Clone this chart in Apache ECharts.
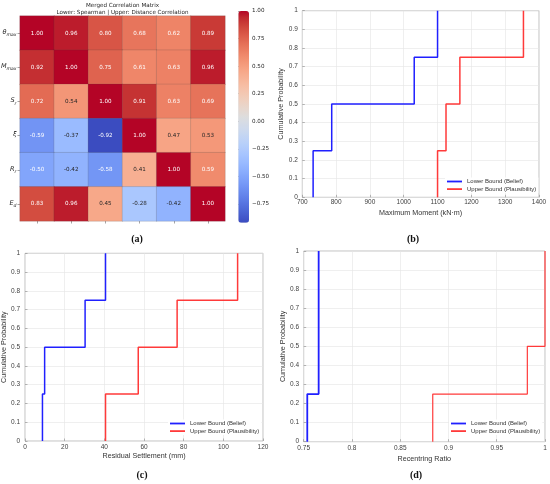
<!DOCTYPE html>
<html><head><meta charset="utf-8">
<script src="https://cdn.jsdelivr.net/npm/echarts@6/dist/echarts.min.js"></script>
<style>html,body{margin:0;padding:0;background:#fff}#c{width:550px;height:484px}</style>
</head><body><div id="c"></div>
<script>
// ---------- data ----------
const varNames = ['θ','M','S','ξ','R','E'];
const varSubs  = ['max','max','r','','r','d'];
const corrMatrix = [
  [ 1.00, 0.96, 0.80, 0.68, 0.62, 0.89],
  [ 0.92, 1.00, 0.75, 0.61, 0.63, 0.96],
  [ 0.72, 0.54, 1.00, 0.91, 0.63, 0.69],
  [-0.59,-0.37,-0.92, 1.00, 0.47, 0.53],
  [-0.50,-0.42,-0.58, 0.41, 1.00, 0.59],
  [ 0.83, 0.96, 0.45,-0.28,-0.42, 1.00]
];
const colorMin = -0.92, colorMax = 1.0;
const colorbarTicks = [-0.75,-0.5,-0.25,0,0.25,0.5,0.75,1];
const cumProb = [0.25,0.5,0.75,1];
const momentLower = [732,787,1031,1100];
const momentUpper = [1100,1125,1166,1354];
const settleLower = [8.8,9.9,30.3,40.6];
const settleUpper = [40.6,57.1,76.7,107.2];
const recenterLower = [0.7537,0.7655,0.7655,0.7655];
const recenterUpper = [0.8837,0.9817,1.0,1.0];
const nameLower = 'Lower Bound (Belief)';
const nameUpper = 'Upper Bound (Plausibility)';

// ---------- colormap (coolwarm) ----------
const coolwarm = [
 [59,76,192],[68,90,204],[77,104,215],[87,117,225],[98,130,234],[108,142,241],[119,154,247],[130,165,251],
 [141,176,254],[152,185,255],[163,194,255],[174,201,253],[184,208,249],[194,213,244],[204,217,238],[213,219,230],
 [221,221,221],[229,216,209],[236,211,197],[241,204,184],[245,196,173],[247,187,160],[247,177,148],[247,166,135],
 [244,154,123],[241,141,111],[236,127,99],[229,112,88],[222,96,77],[213,80,66],[203,62,56],[192,40,47],[180,4,38]
];
const hex = c => '#' + c.map(v => Math.round(v).toString(16).padStart(2,'0')).join('');
function cmap(v){
  let t = (v - colorMin)/(colorMax - colorMin); t = Math.max(0, Math.min(1, t));
  const f = t*(coolwarm.length-1), i = Math.min(Math.floor(f), coolwarm.length-2), r = f - i;
  return coolwarm[i].map((a,k)=> a + (coolwarm[i+1][k]-a)*r);
}
function textColor(v){
  const lin = cmap(v).map(c => { c/=255; return c<=0.03928 ? c/12.92 : Math.pow((c+0.055)/1.055,2.4); });
  const lum = 0.2126*lin[0]+0.7152*lin[1]+0.0722*lin[2];
  return lum > 0.408 ? '#262626' : '#ffffff';
}

const heatData = [];
corrMatrix.forEach((row,r)=>row.forEach((v,c)=>heatData.push({value:[c,r,v], label:{color:textColor(v)}})));

function stairs(xs){
  const pts = [[xs[0],0]];
  xs.forEach((x,i)=>{ pts.push([x,cumProb[i]]); if(i<xs.length-1) pts.push([xs[i+1],cumProb[i]]); });
  return pts;
}

const SANS = 'Liberation Sans, Arial, sans-serif';
const DJ = 'DejaVu Sans, sans-serif';
const fmtNum = v => String(+(+v).toFixed(4));

// ---------- grids ----------
const grids = [
  {left:20, top:16, width:205, height:205},                 // heatmap
  {left:238.3, top:11, width:10.7, height:211.7},           // colorbar axis
  {left:302.3, top:10.7, width:236.7, height:186.6, show:true, borderColor:'#a8a8a8', borderWidth:0.7}, // b
  {left:25, top:253.3, width:238, height:187.7, show:true, borderColor:'#a8a8a8', borderWidth:0.7},     // c
  {left:303.7, top:251, width:241.3, height:190.7, show:true, borderColor:'#a8a8a8', borderWidth:0.7}   // d
].map(g=>Object.assign({outerBoundsMode:'none', containLabel:false}, g));

function cdfX(gi, min, max, interval, name, margin, gap){
  return {type:'value', gridIndex:gi, min, max, interval, name, nameLocation:'middle', nameGap:gap,
    nameTextStyle:{fontSize:7.2, color:'#333', fontFamily:SANS},
    axisLine:{show:false}, axisTick:{show:true, inside:true, length:2.5, lineStyle:{color:'#888', width:0.6}},
    axisLabel:{fontSize:6.5, color:'#404040', fontFamily:SANS, margin, formatter:fmtNum},
    splitLine:{show:true, lineStyle:{color:'#e4e4e4', width:0.6}}};
}
function cdfY(gi, margin, gap){
  return {type:'value', gridIndex:gi, min:0, max:1, interval:0.1, name:'Cumulative Probability',
    nameLocation:'middle', nameGap:gap, nameTextStyle:{fontSize:7.2, color:'#333', fontFamily:SANS},
    axisLine:{show:false}, axisTick:{show:true, inside:true, length:2.5, lineStyle:{color:'#888', width:0.6}},
    axisLabel:{fontSize:6.5, color:'#404040', fontFamily:SANS, margin, formatter:fmtNum},
    splitLine:{show:true, lineStyle:{color:'#e4e4e4', width:0.6}}};
}

const xAxes = [
  {type:'category', gridIndex:0, data:varNames.map((n,i)=>i), axisLine:{show:false},
   axisTick:{show:true, alignWithLabel:true, length:2.5, lineStyle:{color:'#666', width:0.6}},
   axisLabel:{show:false}, splitLine:{show:false}},
  {type:'value', gridIndex:1, min:0, max:1, show:false},
  cdfX(2, 700, 1400, 100, 'Maximum Moment (kN·m)', 1.5, 12),
  cdfX(3, 0, 120, 20, 'Residual Settlement (mm)', 2.5, 12),
  cdfX(4, 0.75, 1, 0.05, 'Recentring Ratio', 3.5, 13.5)
];
const yAxes = [
  {type:'category', gridIndex:0, inverse:true, data:varNames.map((n,i)=>i), axisLine:{show:false},
   axisTick:{show:true, alignWithLabel:true, length:2.5, lineStyle:{color:'#666', width:0.6}},
   axisLabel:{margin:3.5, formatter:(v,i)=>'{m|'+varNames[i]+'}'+(varSubs[i]?'{s|'+varSubs[i]+'}':''),
     rich:{m:{fontSize:6.5, fontStyle:'italic', fontFamily:DJ, color:'#262626', padding:[0,0,1.8,0], verticalAlign:'bottom'},
           s:{fontSize:4.6, fontStyle:'italic', fontFamily:DJ, color:'#262626', verticalAlign:'bottom'}}},
   splitLine:{show:false}},
  {type:'value', gridIndex:1, position:'right', min:colorMin, max:colorMax,
   axisLine:{show:false}, splitLine:{show:false},
   axisTick:{show:true, length:2, customValues:colorbarTicks, lineStyle:{color:'#444', width:0.6}},
   axisLabel:{fontSize:5.6, color:'#262626', fontFamily:DJ, margin:3, customValues:colorbarTicks,
     formatter:v=>(v<0?'\u2212':'')+Math.abs(v).toFixed(2)}},
  cdfY(2, 4.5, 15),
  cdfY(3, 5, 15),
  cdfY(4, 4.7, 15)
];

function lineSeries(name, gi, xs, color, w){
  return {type:'line', name, xAxisIndex:gi, yAxisIndex:gi, data:stairs(xs), showSymbol:false, symbol:'none',
    clip:false, lineStyle:{color, width:w}, itemStyle:{color}, emphasis:{disabled:true}, silent:true, z:3};
}
const BLUE = '#2020ff', RED = '#ff3a3a';

const series = [
  {type:'heatmap', xAxisIndex:0, yAxisIndex:0, data:heatData,
   itemStyle:{borderColor:'rgba(70,70,70,0.35)', borderWidth:0.5},
   label:{show:true, fontSize:5.6, fontFamily:DJ, formatter:p=>p.value[2].toFixed(2)},
   emphasis:{disabled:true}, silent:true},
  lineSeries(nameLower, 2, momentLower, BLUE, 1.5),
  lineSeries(nameUpper, 2, momentUpper, RED, 1.5),
  lineSeries(nameLower, 3, settleLower, BLUE, 1.5),
  lineSeries(nameUpper, 3, settleUpper, RED, 1.5),
  lineSeries(nameLower, 4, recenterLower, BLUE, 1.8),
  lineSeries(nameUpper, 4, recenterUpper, RED, 1.2)
];

function legendAt(left, top){
  return {data:[nameLower, nameUpper], left, top, orient:'vertical', itemGap:1.6, itemWidth:15, itemHeight:1.8,
    icon:'rect', padding:[1,2], backgroundColor:'#fff', selectedMode:false,
    textStyle:{fontSize:6, color:'#333', fontFamily:SANS}};
}

const capStyle = {fontSize:10, fontWeight:'bold', fontFamily:'Liberation Serif, Times New Roman, serif', color:'#111'};
const option = {
  animation:false,
  backgroundColor:'#fff',
  title:[
    {text:'Merged Correlation Matrix\nLower: Spearman | Upper: Distance Correlation', left:122.5, top:2.5,
     textAlign:'center', padding:0, textStyle:{fontSize:5.6, lineHeight:6.6, fontWeight:'normal', color:'#262626', fontFamily:DJ}},
    {text:'(a)', left:137, top:234, textAlign:'center', padding:0, textStyle:capStyle},
    {text:'(b)', left:413, top:234, textAlign:'center', padding:0, textStyle:capStyle},
    {text:'(c)', left:142, top:470, textAlign:'center', padding:0, textStyle:capStyle},
    {text:'(d)', left:416, top:470, textAlign:'center', padding:0, textStyle:capStyle}
  ],
  grid:grids,
  xAxis:xAxes,
  yAxis:yAxes,
  visualMap:{type:'continuous', seriesIndex:0, dimension:2, min:colorMin, max:colorMax,
    inRange:{color:coolwarm.map(hex)}, calculable:false, left:238.3, top:11, itemWidth:10.7, itemHeight:211.7,
    padding:0, orient:'vertical', hoverLink:false},
  legend:[legendAt(445, 177.5), legendAt(168, 419.5), legendAt(449, 419.5)],
  series
};
const chart = echarts.init(document.getElementById('c'), null, {renderer:'canvas'});
chart.setOption(option);
</script></body></html>
